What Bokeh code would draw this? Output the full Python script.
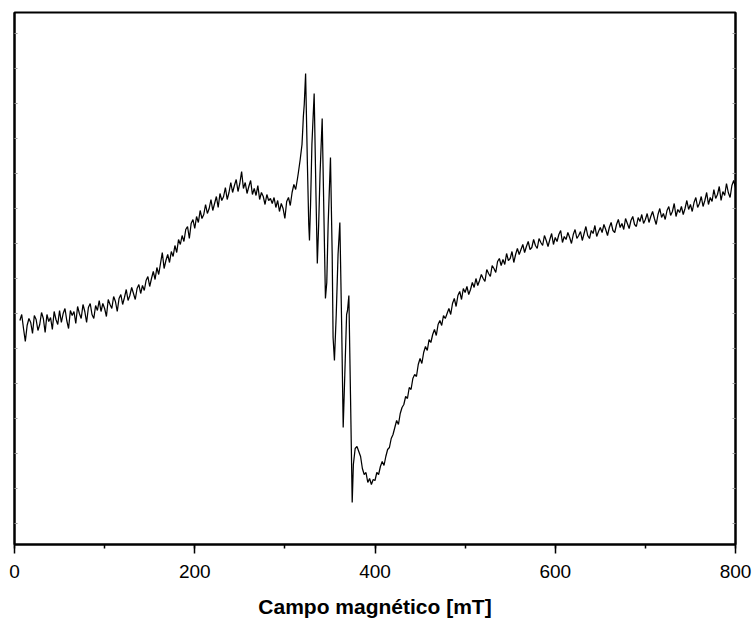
from bokeh.plotting import figure
from bokeh.models import Range1d, LinearAxis, FixedTicker, SingleIntervalTicker
from bokeh.embed import file_html
from bokeh.resources import INLINE

# ---- data (EPR spectrum, intensity in arbitrary units) ----
# segment 1: 6 .. 314 mT, sampled every 2 mT
field_low = list(range(6, 315, 2))
signal_low = [
    224, 230, 216, 203, 219, 226, 222, 211, 229, 225, 214, 220, 232, 226, 212, 230, 223, 227, 215, 233, 225, 220, 234,
    222, 231, 236, 224, 216, 234, 229, 233, 221, 238, 231, 226, 240, 233, 222, 237, 241, 230, 226, 239, 234, 244,
    233, 241, 236, 228, 245, 240, 236, 248, 243, 233, 246, 250, 240, 247, 255, 244, 249, 257, 251, 245, 256, 260, 251,
    259, 254, 264, 268, 258, 266, 273, 265, 277, 270, 281, 292, 276, 284, 290, 282, 293, 288, 299, 292, 305, 300,
    309, 303, 315, 318, 306, 321, 325, 316, 328, 322, 334, 326, 330, 340, 331, 336, 345, 334, 341, 348, 337, 351, 344, 348, 357, 345, 352, 362,
    352, 359, 365, 353, 361, 373, 356, 362, 351, 358, 364, 350, 356, 349, 359, 345, 352, 348, 340, 350, 344, 346, 341, 347, 337, 344, 333,
    341, 336, 326, 343, 347, 339, 352, 360, 355, 366,
]

# segment 2: hyperfine lines region
field_hf = [315, 317, 319, 320, 320.5, 321.5, 323, 325, 326.5, 327.3,
            328.5, 330, 332.5, 334.5, 336, 337.5, 339, 341.4, 343.5, 345,
            346.5, 348, 350.6, 352.5, 353.5, 355, 357, 359, 361, 363,
            364.7, 366.5, 368.5, 369.5, 371, 372.8, 374.7, 376, 378]
signal_hf = [372, 385, 400, 418, 428, 440, 471, 380, 320, 304,
             340, 400, 451, 350, 281, 320, 370, 426, 320, 246,
             262, 320, 387, 290, 207, 184, 230, 290, 322, 220,
             117, 170, 230, 234, 249, 150, 42, 80, 96]

# segment 3: 380 .. 800 mT, sampled every 2 mT
field_high = list(range(380, 801, 2))
signal_high = [
    98, 93, 88, 76, 70, 72, 62, 66, 60, 65,
    64, 72, 70, 78, 83, 79, 88, 95, 97, 106,
    110, 117, 124, 120, 131, 137, 140, 148, 146, 157,
    155, 166, 170, 168, 180, 186, 181, 192, 198, 194,
    205, 202, 210, 215, 209, 220, 224, 219, 229, 226,
    231, 236, 230, 241, 246, 238, 249, 253, 245, 256,
    252, 258, 250, 255, 262, 257, 266, 259, 264, 270,
    266, 263, 275, 271, 268, 279, 276, 272, 283, 286,
    279, 285, 280, 291, 284, 286, 293, 282, 290, 296,
    290, 295, 300, 292, 298, 303, 295, 297, 305, 299,
    296, 306, 302, 299, 309, 304, 298, 305, 311, 300,
    307, 303, 310, 314, 302, 308, 305, 312, 307, 301,
    310, 315, 306, 309, 313, 304, 311, 318, 309, 306,
    314, 311, 319, 308, 313, 317, 312, 320, 315, 309,
    317, 322, 314, 312, 320, 325, 317, 321, 315, 326,
    321, 316, 324, 328, 320, 318, 327, 323, 330, 321,
    325, 331, 322, 328, 333, 326, 320, 330, 336, 327,
    331, 325, 334, 338, 329, 333, 341, 328, 335, 332,
    338, 330, 336, 344, 335, 340, 333, 342, 347, 337,
    341, 348, 338, 344, 352, 340, 347, 343, 355, 346,
    350, 358, 344, 353, 349, 361, 352, 347, 359, 364,
    357,
]

x_label = "Campo magnético [mT]"

field = field_low + field_hf + field_high
signal = signal_low + signal_hf + signal_high

FONT = "Liberation Sans"

p = figure(width=754, height=623,
           x_range=Range1d(0, 800), y_range=Range1d(0, 532),
           output_backend="svg", toolbar_location=None,
           min_border_left=14, min_border_right=19,
           min_border_top=12, min_border_bottom=79,
           x_axis_label=x_label)
p.grid.visible = False
p.outline_line_color = "black"
p.outline_line_width = 2
p.background_fill_color = "white"
p.border_fill_color = "white"

p.line(field, signal, line_color="black", line_width=1.25)

xa = p.xaxis[0]
xa.ticker = SingleIntervalTicker(interval=200, num_minor_ticks=2)
xa.axis_line_width = 2
xa.axis_line_color = "black"
xa.major_tick_out = 9
xa.major_tick_in = 0
xa.minor_tick_out = 4
xa.minor_tick_in = 0
xa.major_tick_line_width = 1.5
xa.minor_tick_line_width = 1.5
xa.major_tick_line_color = "black"
xa.minor_tick_line_color = "black"
xa.major_label_text_font = FONT
xa.major_label_text_font_size = "19px"
xa.major_label_text_color = "black"
xa.major_label_standoff = 11
xa.axis_label_text_font = FONT
xa.axis_label_text_font_style = "bold"
xa.axis_label_text_font_size = "21px"
xa.axis_label_text_color = "black"
xa.axis_label_standoff = 14

ticks_y = [21 + 35 * k for k in range(15)]


def style_side(ax):
    ax.ticker = FixedTicker(ticks=[], minor_ticks=ticks_y)
    ax.major_label_standoff = 0
    ax.major_tick_in = 0
    ax.major_tick_out = 0
    ax.minor_tick_in = 3
    ax.minor_tick_out = 0
    ax.minor_tick_line_color = "#999999"
    ax.axis_line_width = 2
    ax.axis_line_color = "black"


style_side(p.yaxis[0])
ra = LinearAxis()
style_side(ra)
p.add_layout(ra, "right")

open("out.html", "w").write(file_html(p, INLINE))
